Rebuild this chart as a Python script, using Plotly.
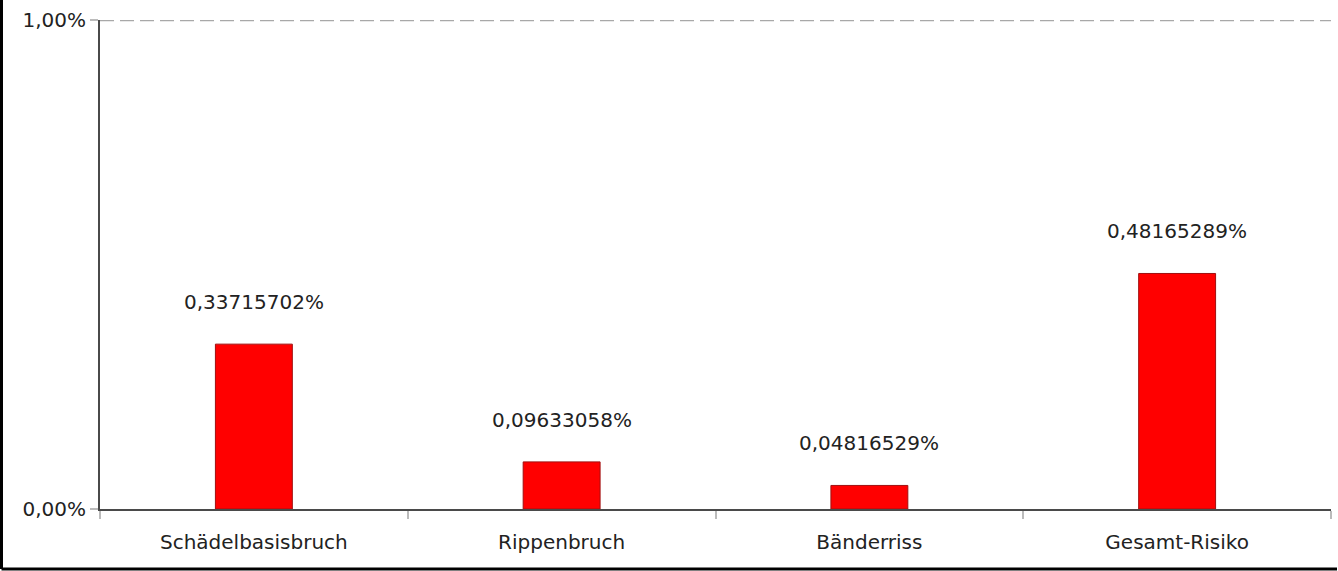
import plotly.graph_objects as go

categories = ["Schädelbasisbruch", "Rippenbruch", "Bänderriss", "Gesamt-Risiko"]
values = [0.33715702, 0.09633058, 0.04816529, 0.48165289]  # in %
y_tick_vals = [0, 1]
y_tick_text = ["0,00%", "1,00%"]


def fmt(v):
    return f"{v:.8f}".replace(".", ",") + "%"


FONT = "DejaVu Sans"
TXT = "#222222"

fig = go.Figure()
fig.add_trace(go.Bar(
    x=categories, y=values, width=0.25,
    marker=dict(color="#ff0000", line=dict(color="#a01010", width=1)),
    hoverinfo="skip",
))

for c, v in zip(categories, values):
    fig.add_annotation(x=c, y=v, text=fmt(v), showarrow=False,
                       yanchor="middle", yshift=42,
                       font=dict(family=FONT, size=20, color=TXT))

L, R, T, B = 100, 7, 20, 62
W, H = 1338, 571
pw, ph = W - L - R, H - T - B

# dashed gridline at the top tick
fig.add_shape(type="line", xref="paper", yref="y", x0=0, x1=1,
              y0=y_tick_vals[-1], y1=y_tick_vals[-1],
              line=dict(color="#a8a8a8", width=2.5, dash="14px,6px"), layer="below")

# outer frame (left and bottom)
yb = -(H - 2 - (H - B)) / ph
xl = (1.5 - L) / pw
fig.add_shape(type="line", xref="paper", yref="paper",
              x0=xl, x1=(W - 1 - L) / pw, y0=yb, y1=yb,
              line=dict(color="#000000", width=3))
fig.add_shape(type="line", xref="paper", yref="paper",
              x0=xl, x1=xl, y0=yb, y1=(H - T) / ph,
              line=dict(color="#000000", width=3))

fig.update_layout(
    width=W, height=H,
    margin=dict(l=L, r=R, t=T, b=B, autoexpand=False),
    paper_bgcolor="white", plot_bgcolor="white",
    showlegend=False,
    font=dict(family=FONT, size=20, color=TXT),
    xaxis=dict(
        automargin=False,
        showline=True, linecolor="#4a4a4a", linewidth=2,
        ticks="outside", tickson="boundaries", ticklen=8, tickwidth=2, tickcolor="#bbbbbb",
        ticklabelstandoff=14,
        showgrid=False, zeroline=False,
        tickfont=dict(family=FONT, size=20, color=TXT),
    ),
    yaxis=dict(
        automargin=False,
        range=[0, 1], tickvals=y_tick_vals, ticktext=y_tick_text,
        showline=True, linecolor="#4a4a4a", linewidth=2,
        ticks="outside", ticklen=8, tickwidth=2, tickcolor="#bbbbbb",
        showgrid=False, zeroline=False,
        tickfont=dict(family=FONT, size=20, color=TXT),
    ),
)

fig.write_html("out.html", config={"displayModeBar": False},
               post_script="document.body.style.margin='0';document.body.style.overflow='hidden';")
